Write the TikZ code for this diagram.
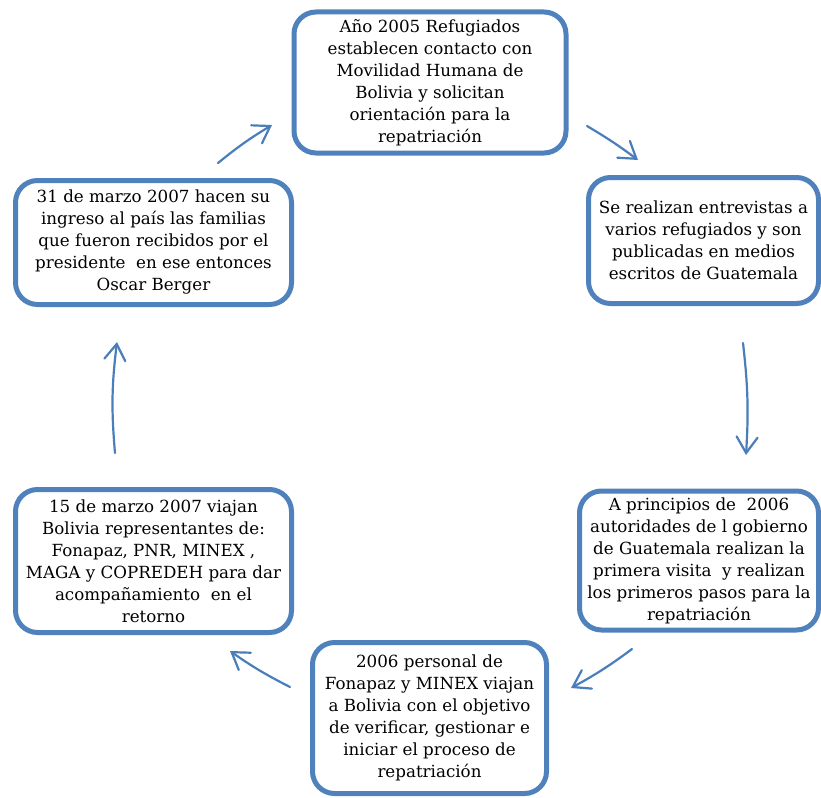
\documentclass[tikz,border=0pt]{standalone}
\usepackage{fontspec}
\setmainfont{DejaVu Serif}
\usetikzlibrary{arrows.meta}
\definecolor{boxblue}{HTML}{4F81BD}
\definecolor{arrblue}{HTML}{4A7EBB}
\tikzset{
  stepbox/.style={draw=boxblue, line width=5pt, rounded corners=22pt, fill=white,
    align=center, inner sep=0pt, font=\fontsize{16.7}{22}\selectfont, text=black},
  flow/.style={draw=arrblue, line width=2.2pt, line cap=round,
    -{Straight Barb[length=16pt,width=21pt,line cap=round]}}
}
\begin{document}
\begin{tikzpicture}[x=1pt,y=-1pt]
\useasboundingbox (0,0) rectangle (821,797);
\node[stepbox, minimum width=272pt, minimum height=141pt] (b1) at (430,82.5)
  {Año 2005 Refugiados\\establecen contacto con\\Movilidad Humana de\\Bolivia y solicitan\\orientación para la\\repatriación};
\node[stepbox, minimum width=230pt, minimum height=126pt] (b2) at (703.5,240.5)
  {Se realizan entrevistas a\\varios refugiados y son\\publicadas en medios\\escritos de Guatemala};
\node[stepbox, minimum width=239pt, minimum height=139pt] (b3) at (699,560.5)
  {A principios de\ \ 2006\\autoridades de l gobierno\\de Guatemala realizan la\\primera visita\ \ y realizan\\los primeros pasos para la\\repatriación};
\node[stepbox, minimum width=234pt, minimum height=151pt] (b4) at (429.5,718)
  {2006 personal de\\Fonapaz y MINEX viajan\\a Bolivia con el objetivo\\de verificar, gestionar e\\iniciar el proceso de\\repatriación};
\node[stepbox, minimum width=276pt, minimum height=143pt] (b5) at (153.5,561)
  {15 de marzo 2007 viajan\\Bolivia representantes de:\\Fonapaz, PNR, MINEX ,\\MAGA y COPREDEH para dar\\acompañamiento\ \ en el\\retorno};
\node[stepbox, minimum width=276pt, minimum height=124pt] (b6) at (153.5,242.5)
  {31 de marzo 2007 hacen su\\ingreso al país las familias\\que fueron recibidos por el\\presidente\ \ en ese entonces\\Oscar Berger};
\coordinate (a1s) at (587,126); \coordinate (a1e) at (638,160);
\coordinate (a2s) at (743,343); \coordinate (a2e) at (746,455);
\coordinate (a3s) at (632,649); \coordinate (a3e) at (571,688);
\coordinate (a4s) at (290,687); \coordinate (a4e) at (230,651);
\coordinate (a5s) at (115,453); \coordinate (a5e) at (117,342);
\coordinate (a6s) at (218,163); \coordinate (a6e) at (272,125);
\draw[flow] (a1s) to[bend left=3] (a1e);
\draw[flow] (a2s) to[bend left=5] (a2e);
\draw[flow] (a3s) to[bend left=4] (a3e);
\draw[flow] (a4s) to[bend left=4] (a4e);
\draw[flow] (a5s) to[bend left=6] (a5e);
\draw[flow] (a6s) to[bend left=4] (a6e);
\end{tikzpicture}
\end{document}
